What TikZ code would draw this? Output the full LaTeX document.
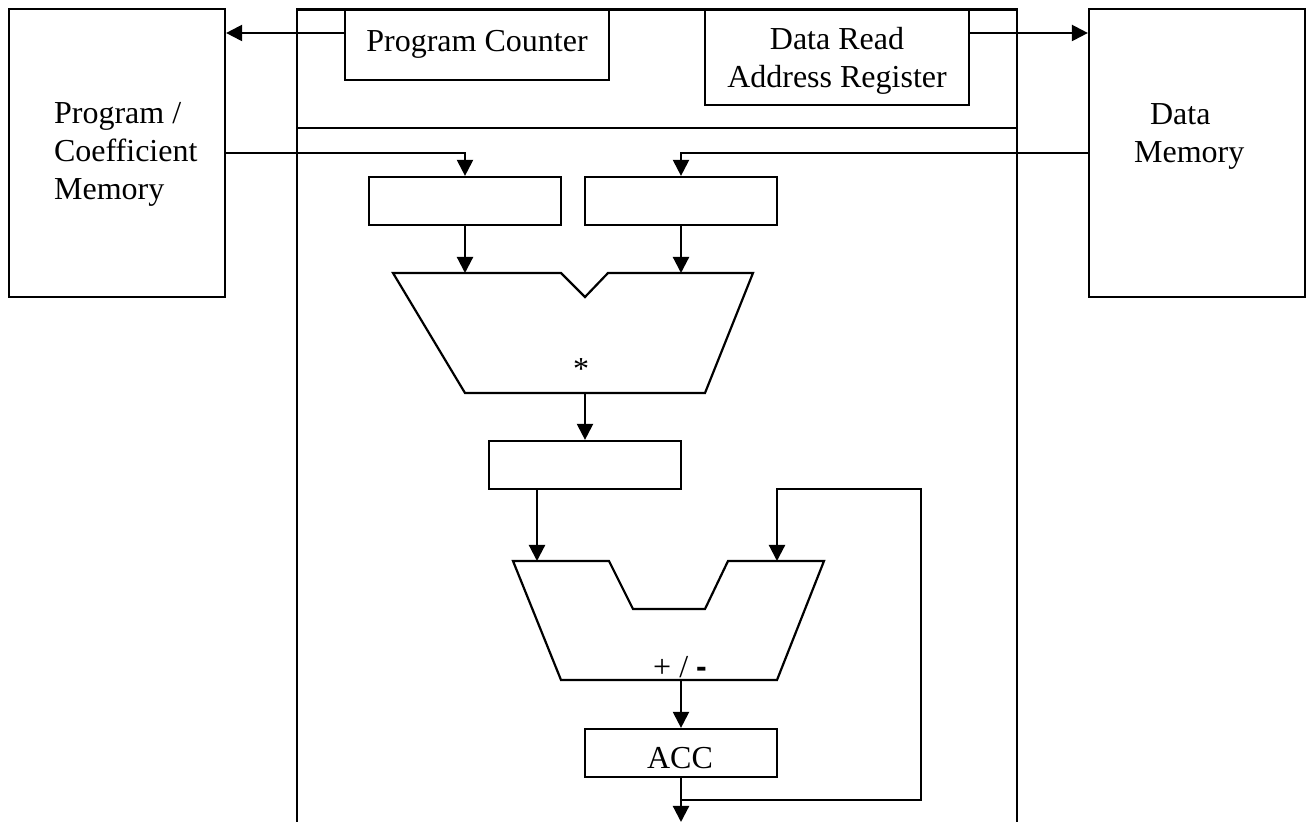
\documentclass[tikz,border=0pt]{standalone}
\usepackage{fontspec}
\setmainfont{Liberation Serif}
\newfontfamily\sansfnt{Liberation Sans}
\usetikzlibrary{arrows.meta}
\begin{document}
\begin{tikzpicture}[x=0.5pt,y=-0.5pt, line width=1.1pt,
  every node/.style={font=\fontsize{16}{19}\selectfont},
  box/.style={draw, rectangle, inner sep=0pt, line width=1.1pt},
  reg/.style={box, minimum width=96pt, minimum height=24pt},
  mem/.style={box, minimum width=108pt, minimum height=144pt},
  arr/.style={-{Triangle[length=8pt,width=8pt]}},
  txt/.style={inner sep=0pt, align=center}]
\useasboundingbox (0,0) rectangle (1312,822);

% outer DSP box (open at bottom)
\coordinate (bbl) at (297,822);
\coordinate (btl) at (297,9.5);
\coordinate (btr) at (1017,9.5);
\coordinate (bbr) at (1017,822);
\draw (bbl) -- (btl) -- (btr) -- (bbr);
\coordinate (dl) at (297,128);
\coordinate (dr) at (1017,128);
\draw (dl) -- (dr);

% memories
\node[mem] (pm) at (117,153) {};
\node[anchor=west, align=left, inner sep=0pt] (pmt) at (53,154) {Program /\\Coefficient\\Memory};
\node[mem] (dm) at (1197,153) {};
\node[anchor=west, align=left, inner sep=0pt] (dmt) at (1133,136) {\hspace*{8pt}Data\\Memory};

% address registers
\node[box, minimum width=132pt, minimum height=35.25pt] (pc) at (477,45) {};
\node[txt] (pct) at (477,44) {Program Counter};
\node[box, minimum width=132pt, minimum height=47.75pt] (drar) at (837,57) {};
\node[txt] (drart) at (837,61) {Data Read\\Address Register};

% input registers
\node[reg] (lreg) at (465,201) {};
\node[reg] (rreg) at (681,201) {};

% multiplier
\coordinate (m1) at (393,273);
\coordinate (m2) at (561,273);
\coordinate (m3) at (585,297);
\coordinate (m4) at (608,273);
\coordinate (m5) at (753,273);
\coordinate (m6) at (705,393);
\coordinate (m7) at (465,393);
\draw (m1) -- (m2) -- (m3) -- (m4) -- (m5) -- (m6) -- (m7) -- cycle;
\coordinate (mi1) at (465,273);
\coordinate (mi2) at (681,273);
\coordinate (mo) at (585,393);
\node[txt] (star) at (581,369) {*};

% product register
\node[reg] (treg) at (585,465) {};

% adder
\coordinate (a1) at (513,561);
\coordinate (a2) at (609,561);
\coordinate (a3) at (633,609);
\coordinate (a4) at (705,609);
\coordinate (a5) at (728,561);
\coordinate (a6) at (824,561);
\coordinate (a7) at (777,680);
\coordinate (a8) at (561,680);
\draw (a1) -- (a2) -- (a3) -- (a4) -- (a5) -- (a6) -- (a7) -- (a8) -- cycle;
\coordinate (ai1) at (537,561);
\coordinate (ai2) at (777,561);
\coordinate (ao) at (681,680);
\node[txt, anchor=base] (pm-lbl) at (680,678) {+ / {\sansfnt\bfseries -}};

% accumulator
\node[reg] (acc) at (681,753) {};
\node[txt] (acct) at (680,758) {ACC};

% connectors
\coordinate (ya) at (0,33);
\coordinate (yb) at (0,153);
\draw[arr] (pc.west |- ya) -- (pm.east |- ya);
\draw[arr] (drar.east |- ya) -- (dm.west |- ya);
\draw[arr] (pm.east |- yb) -- (lreg.north |- yb) -- (lreg.north);
\draw[arr] (dm.west |- yb) -- (rreg.north |- yb) -- (rreg.north);
\draw[arr] (lreg.south) -- (mi1);
\draw[arr] (rreg.south) -- (mi2);
\draw[arr] (mo) -- (treg.north);
\draw[arr] (treg.south -| ai1) -- (ai1);
\draw[arr] (ao) -- (acc.north);
\coordinate (out) at (681,822);
\draw[arr] (acc.south) -- (out);
\coordinate (fb1) at (681,800);
\coordinate (fb2) at (921,800);
\coordinate (fb3) at (921,489);
\coordinate (fb4) at (777,489);
\draw[arr] (fb1) -- (fb2) -- (fb3) -- (fb4) -- (ai2);
\end{tikzpicture}
\end{document}
